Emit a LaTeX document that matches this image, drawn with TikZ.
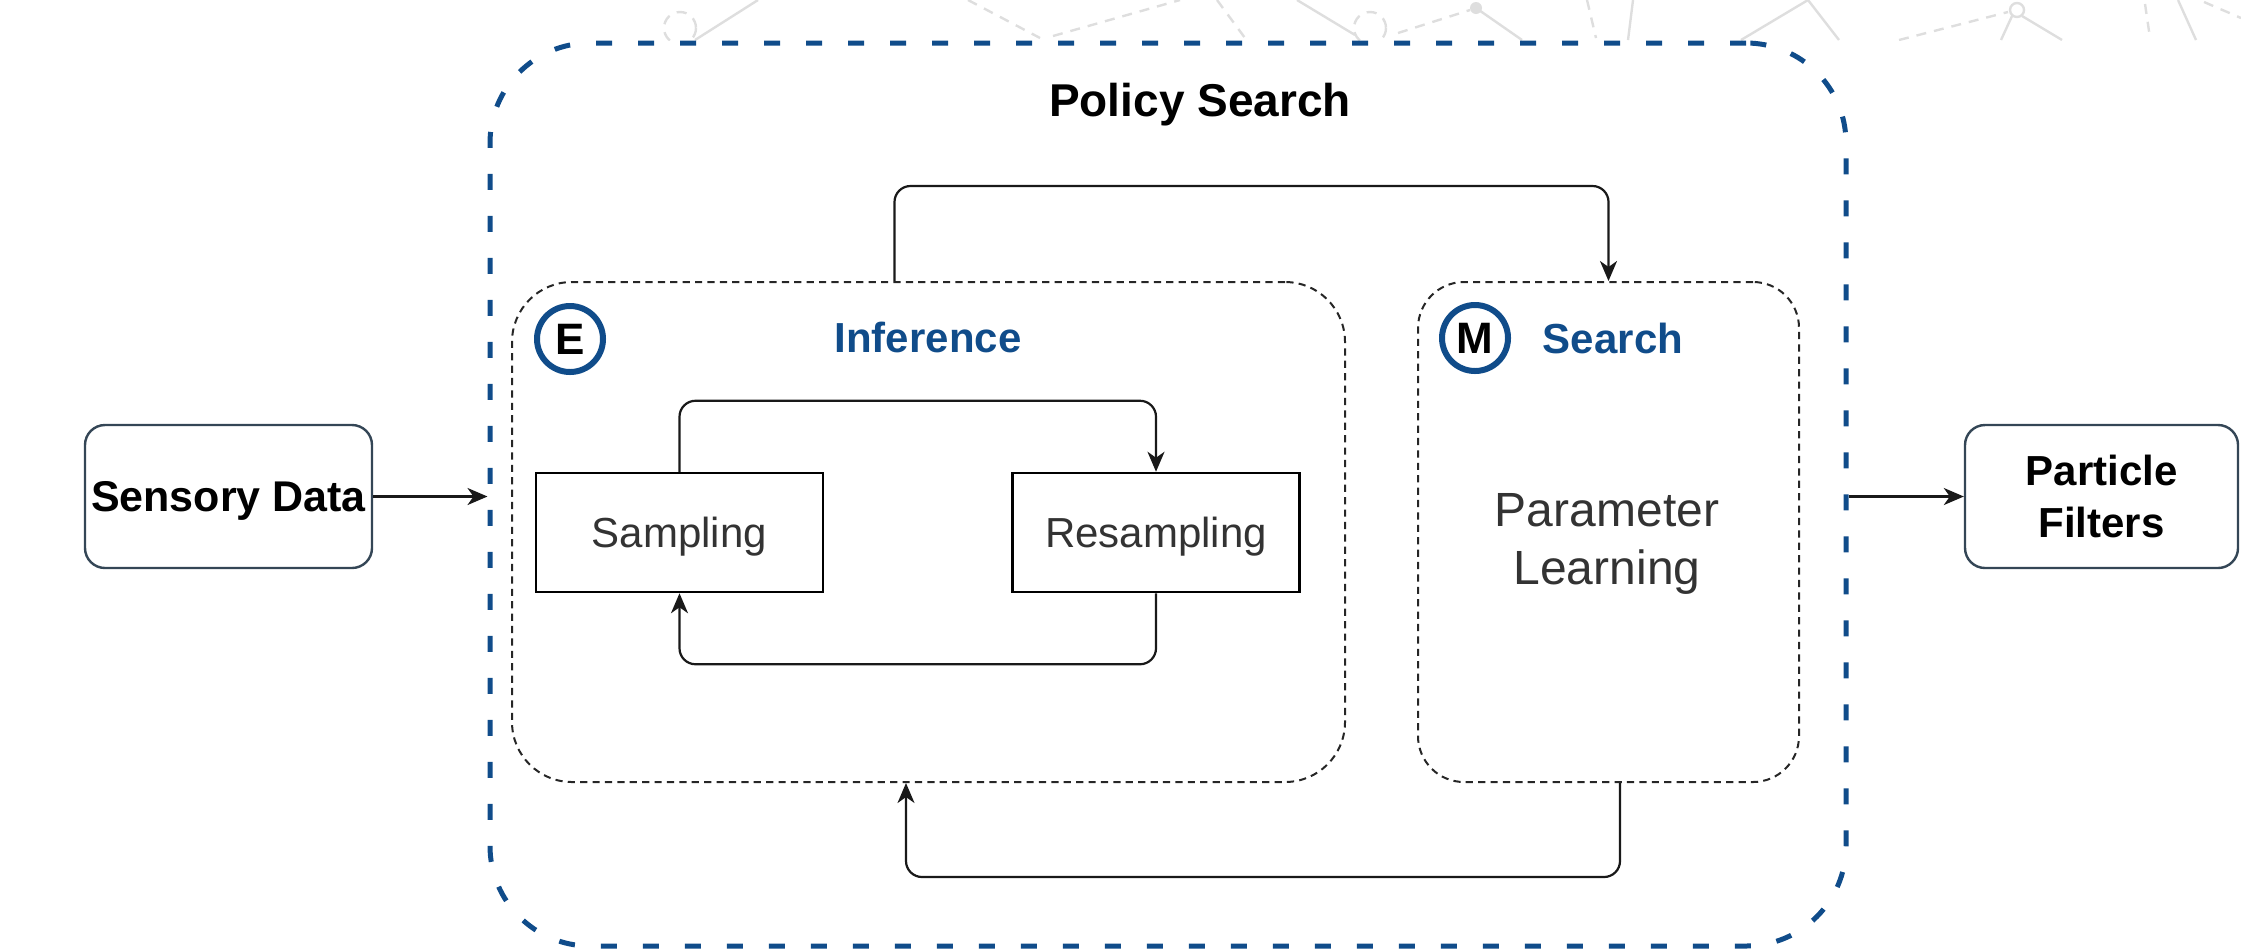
\documentclass[tikz,border=0pt]{standalone}
\usepackage{fontspec}
\setmainfont{Liberation Sans}
\usetikzlibrary{arrows.meta,calc}
\definecolor{psblue}{RGB}{16,76,138}
\definecolor{txtgray}{RGB}{51,51,51}
\definecolor{boxedge}{RGB}{52,70,86}
\definecolor{wmark}{RGB}{222,222,222}
\begin{document}
\begin{tikzpicture}[x=0.5pt,y=-0.5pt,
  conn/.style={draw=black!90, line width=1.1pt, rounded corners=8pt, -{Stealth[length=10pt,width=8.5pt,inset=3pt]}},
  endbox/.style={draw=boxedge, line width=1.2pt, rounded corners=10pt, fill=white, inner sep=0pt},
  groupbox/.style={draw=black!85, line width=1pt, dash pattern=on 3.6pt off 2.6pt, inner sep=0pt},
  procbox/.style={draw=black, line width=1.25pt, minimum width=143.5pt, minimum height=59.5pt, inner sep=0pt, text=txtgray, font=\fontsize{21}{25}\selectfont, text height=15pt, text depth=0pt},
  tag/.style={circle, draw=psblue, line width=3pt, minimum size=33pt, inner sep=0pt, font=\bfseries\fontsize{22}{26}\selectfont},
  grouptitle/.style={text=psblue, font=\bfseries\fontsize{21}{25}\selectfont, inner sep=0pt, anchor=base},
  wm/.style={draw=wmark, line width=1.2pt},
  wmd/.style={wm, dash pattern=on 5pt off 4pt}
]
\useasboundingbox (0,0) rectangle (2241,950);
% faint background pattern
\begin{scope}
\clip (0,0) rectangle (2241,40);
\draw[wmd] (680,28) circle[radius=16];
\draw[wm] (695,40) -- (758,0);
\draw[wmd] (968,0) -- (1040,38);
\draw[wmd] (1053,36) -- (1180,0);
\draw[wmd] (1217,0) -- (1245,38);
\draw[wm] (1297,0) -- (1355,35);
\draw[wmd] (1370,28) circle[radius=16];
\draw[wmd] (1398,33) -- (1470,10);
\fill[wmark] (1476,8) circle[radius=6];
\draw[wm] (1476,8) -- (1522,40);
\draw[wmd] (1587,0) -- (1596,38);
\draw[wm] (1633,0) -- (1628,40);
\draw[wm] (1741,40) -- (1808,0) -- (1839,40);
\draw[wmd] (1899,40) -- (2008,12);
\draw[wm] (2017,10) circle[radius=7];
\draw[wm] (2012,16) -- (2001,40);
\draw[wm] (2022,16) -- (2062,40);
\draw[wmd] (2145,4) -- (2150,38);
\draw[wm] (2178,0) -- (2196,40);
\draw[wmd] (2204,2) -- (2241,18);
\end{scope}

% outer group
\node[draw=psblue, line width=2.5pt, dash pattern=on 8pt off 13pt, rounded corners=50pt,
      minimum width=678pt, minimum height=451.5pt, inner sep=0pt] (outer) at (1168,494.5) {};
\node[font=\bfseries\fontsize{23}{27}\selectfont, anchor=base, inner sep=0pt] (title) at (1200,116) {Policy Search};

% inner groups
\node[groupbox, rounded corners=30pt, minimum width=416.5pt, minimum height=250pt] (inf) at (928.5,532) {};
\node[groupbox, rounded corners=23pt, minimum width=190.5pt, minimum height=250pt] (srch) at (1608.5,532) {};

\node[tag] (etag) at (570,339) {E};
\node[grouptitle] (inftitle) at (928,352) {Inference};
\node[tag] (mtag) at (1475,338) {M};
\node[grouptitle] (srchtitle) at (1613,353) {Search};

\node[procbox] (samp) at (679.5,532.5) {Sampling};
\node[procbox] (resamp) at (1156,532.5) {Resampling};

\node[text=txtgray, align=center, font=\fontsize{24}{28.8}\selectfont, inner sep=0pt] (param) at (1607,544) {Parameter\\Learning};

% end boxes
\node[endbox, minimum width=143.5pt, minimum height=71.5pt, font=\bfseries\fontsize{21.5}{26}\selectfont,
      text height=15.4pt, text depth=0pt] (sens) at (228.5,496.5) {Sensory Data};
\node[endbox, minimum width=136.5pt, minimum height=71.5pt, align=center,
      font=\bfseries\fontsize{21}{26}\selectfont] (pf) at (2101.5,496.5) {Particle\\Filters};

% connectors
\draw[conn] (sens.east) -- (sens.east -| outer.west);
\draw[conn] (pf.west -| outer.east) -- (pf.west);
\draw[conn] (samp.north) -- ++(0,-71) -| (resamp.north);
\draw[conn] (resamp.south) -- ++(0,71) -| (samp.south);
\draw[conn] ([xshift=-17pt]inf.north) -- ++(0,-95) -| (srch.north);
\draw[conn] ([xshift=5.75pt]srch.south) -- ++(0,94) -| ([xshift=-11.25pt]inf.south);
\end{tikzpicture}
\end{document}
